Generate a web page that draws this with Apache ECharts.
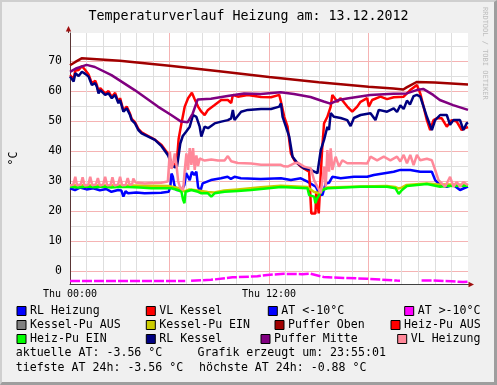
<!DOCTYPE html>
<html><head><meta charset="utf-8">
<script src="https://cdn.jsdelivr.net/npm/echarts@6/dist/echarts.min.js"></script>
<style>
html,body{margin:0;padding:0;background:#fff;}
#frame{position:absolute;left:0;top:0;width:497px;height:385px;box-sizing:border-box;background:#f0f0f0;border-left:2px solid #cfcfcf;border-top:2px solid #cfcfcf;border-right:3px solid #9e9e9e;border-bottom:3px solid #9e9e9e;}
#chart{position:absolute;left:0;top:0;width:497px;height:385px;}
</style></head><body><div id="frame"></div><div id="chart"></div>
<script>
// ---- text ----
const titleText = 'Temperaturverlauf Heizung am: 13.12.2012';
const unitLabel = '°C';
const comments = ['aktuelle AT: -3.56 °C', 'Grafik erzeugt um: 23:55:01', 'tiefste AT 24h: -3.56 °C', 'höchste AT 24h: -0.88 °C'];
const watermark = 'RRDTOOL / TOBI OETIKER';

// ---- axes ----
const xMin = 0, xMax = 24;               // hours of Thu 13.12.2012
const xLabelHours = [0, 12];
const xLabelTexts = ['Thu 00:00', 'Thu 12:00'];
const yMin = -4.333, yMax = 79.333;
const yMajorTicks = [0, 10, 20, 30, 40, 50, 60, 70];
const yMinorTicks = [5, 15, 25, 35, 45, 55, 65, 75];

// ---- series: [hour, °C] ----
const rlHeizung = [[0,27.6],[0.3,27.0],[0.6,27.8],[1.0,27.2],[1.4,27.6],[1.8,26.9],[2.2,27.3],[2.5,26.4],[2.9,27.0],[3.1,26.8],[3.22,24.8],[3.35,26.6],[3.5,25.9],[4.0,26.2],[4.5,25.9],[5.0,26.0],[5.5,26.1],[5.95,26.4],[6.05,28.1],[6.12,32.5],[6.2,31.5],[6.3,28.5],[6.42,27.0],[6.72,26.8],[6.9,28.7],[7.0,32.6],[7.12,32.4],[7.22,30.3],[7.35,33.1],[7.5,32.0],[7.62,33.1],[7.72,28.1],[7.85,26.5],[8.0,29.2],[8.5,30.3],[9.1,30.9],[9.5,31.4],[9.7,30.7],[9.92,31.4],[10.3,30.9],[11.5,30.7],[12.72,30.9],[13.32,30.3],[13.92,30.9],[14.32,29.8],[14.82,28.1],[15.02,25.9],[15.22,25.3],[15.42,29.2],[15.62,29.4],[15.82,31.4],[16.32,30.9],[17.12,31.4],[17.92,31.4],[18.32,32.0],[19.52,33.1],[19.92,33.7],[20.52,33.7],[21.12,33.1],[21.82,33.1],[22.02,30.3],[22.32,28.7],[22.72,28.1],[23.12,28.7],[23.52,27.0],[23.72,27.5],[24,28.1]];
const vlKessel = [[0,65.3],[0.12,65.4],[0.22,64.0],[0.32,66.8],[0.52,67.0],[0.72,68.3],[0.92,67.0],[1.12,65.5],[1.32,62.5],[1.52,63.4],[1.62,62.0],[1.72,59.7],[1.82,61.0],[1.92,61.0],[2.12,59.2],[2.32,60.0],[2.52,58.0],[2.72,59.4],[2.92,56.3],[3.02,57.6],[3.22,53.5],[3.42,54.8],[3.62,52.4],[3.72,50.7],[3.92,49.6],[4.12,47.4],[4.32,46.2],[4.72,45.0],[5.12,43.8],[5.52,42.0],[5.92,39.0],[6.12,36.0],[6.32,35.2],[6.45,37.0],[6.55,44.0],[6.72,49.2],[6.92,54.8],[7.12,57.6],[7.35,59.4],[7.5,57.5],[7.72,54.8],[7.92,53.1],[8.12,52.0],[8.32,53.7],[8.72,55.3],[9.12,57.0],[9.52,57.0],[9.72,56.0],[9.82,58.7],[10.12,58.1],[10.72,58.7],[11.52,58.0],[12.12,57.9],[12.62,58.7],[12.72,56.4],[12.92,51.4],[13.12,48.1],[13.32,39.2],[13.52,37.0],[13.92,34.8],[14.42,33.1],[14.5,32.6],[14.55,19.2],[14.8,19.2],[14.85,26.5],[14.95,26.5],[15.0,19.2],[15.12,19.2],[15.2,40.3],[15.32,49.2],[15.52,51.4],[15.72,54.8],[15.82,58.7],[15.92,59.2],[16.12,56.4],[16.32,57.6],[16.72,54.8],[17.02,53.1],[17.32,54.8],[17.52,56.4],[17.92,57.6],[18.02,54.8],[18.22,57.0],[18.72,58.1],[19.12,57.3],[19.52,57.9],[20.12,58.1],[20.52,60.3],[20.92,62.0],[21.12,59.2],[21.32,54.8],[21.52,50.3],[21.72,47.0],[21.92,50.3],[22.12,50.9],[22.42,50.9],[22.72,48.1],[23.02,50.3],[23.32,49.8],[23.62,47.0],[23.82,47.6],[24,48.0]];
const atBelow10 = [];
const atAbove10 = [[0,-3.33],[3,-3.3],[6.95,-3.33],[7.1,null],[7.3,-3.25],[8.5,-2.95],[9.8,-2.1],[11.3,-1.77],[11.9,-1.3],[12.9,-0.95],[14.0,-1.05],[14.5,-0.9],[15.3,-2.0],[16.5,-2.3],[17.9,-2.56],[19.7,-3.2],[19.9,-3.25],[20.5,null],[21.2,-3.2],[21.9,-3.2],[23.0,-3.4],[23.7,-3.67],[24,-3.56]];
const kesselPuAus = [];
const kesselPuEin = [[0,28.6],[3.5,28.5],[6.0,28.3],[6.6,27.6],[6.9,26.5],[7.2,27.2],[7.6,26.9],[8.3,26.3],[8.7,26.2],[9.3,26.8],[10.1,27.2],[11.5,27.9],[12.7,28.4],[14.3,28.0],[14.7,26.4],[15.0,25.9],[15.2,27.0],[15.5,27.8],[17.5,28.2],[19.1,28.3],[19.6,28.0],[19.8,27.5],[20.0,27.8],[20.3,28.7],[21.5,29.2],[22.1,28.9],[23.0,28.8],[24,28.7]];
const pufferOben = [[0,68.6],[0.3,69.6],[0.7,70.9],[3,70.1],[6,68.4],[9,66.6],[12,64.7],[15,62.9],[18,61.4],[19.5,60.8],[20.1,60.5],[20.3,61.2],[20.5,61.8],[20.9,63.0],[22,62.8],[24,62.2]];
const heizPuAus = [];
const heizPuEin = [[0,28.1],[0.5,27.8],[1.0,28.2],[1.5,27.9],[2.0,28.2],[2.5,27.8],[3.0,28.1],[3.5,28.0],[4.2,27.8],[4.9,27.6],[6.1,27.6],[6.5,27.0],[6.72,26.4],[6.82,23.7],[6.9,22.6],[6.97,26.4],[7.32,27.0],[7.72,26.4],[7.92,25.9],[8.32,25.9],[8.52,24.8],[8.72,25.9],[9.32,26.4],[10.12,26.7],[10.92,27.0],[12.72,28.0],[14.32,27.6],[14.42,25.3],[14.72,24.8],[14.8,22.6],[14.88,24.0],[15.02,25.3],[15.22,27.0],[15.52,27.6],[17.52,28.1],[19.12,28.1],[19.62,27.6],[19.82,25.7],[20.02,27.0],[20.32,28.3],[21.52,29.0],[22.32,28.1],[22.72,28.3],[24,28.4]];
const rlKessel = [[0,64.8],[0.12,64.6],[0.22,63.2],[0.32,65.9],[0.52,65.0],[0.72,66.4],[0.92,65.7],[1.12,64.8],[1.32,62.0],[1.52,62.6],[1.62,61.4],[1.72,59.2],[1.82,60.3],[1.92,60.3],[2.12,58.7],[2.32,59.2],[2.52,57.6],[2.72,58.7],[2.92,55.9],[3.02,57.0],[3.22,53.1],[3.42,54.2],[3.62,52.0],[3.72,50.3],[3.92,49.2],[4.12,47.0],[4.32,45.9],[4.72,44.8],[5.12,43.7],[5.52,41.6],[5.92,38.5],[6.12,35.6],[6.32,34.6],[6.45,34.8],[6.55,38.5],[6.65,42.5],[6.8,45.0],[7.0,46.4],[7.22,48.1],[7.42,52.0],[7.62,51.4],[7.82,48.1],[7.92,44.8],[8.12,48.1],[8.32,47.6],[8.72,49.2],[9.12,49.8],[9.52,50.3],[9.72,50.9],[9.82,53.7],[9.92,50.3],[10.32,53.1],[10.72,53.7],[11.52,54.0],[12.12,54.0],[12.62,54.8],[12.72,55.9],[12.82,51.4],[13.02,48.1],[13.22,44.8],[13.42,38.1],[13.72,35.9],[14.12,34.2],[14.52,33.7],[14.92,32.6],[15.12,40.3],[15.32,43.7],[15.52,48.1],[15.62,47.0],[15.72,52.6],[15.92,51.4],[16.32,51.0],[16.72,50.3],[16.92,48.3],[17.12,51.0],[17.52,52.0],[18.12,52.6],[18.42,50.3],[18.62,53.7],[19.12,53.1],[19.52,54.2],[19.72,53.0],[19.92,55.2],[20.12,54.0],[20.32,56.8],[20.5,55.5],[20.72,58.3],[20.92,58.7],[21.12,58.1],[21.32,54.8],[21.52,51.4],[21.82,47.0],[22.02,50.3],[22.32,52.0],[22.72,52.0],[22.92,48.7],[23.12,50.3],[23.52,50.3],[23.72,47.0],[23.92,49.2],[24,49.5]];
const pufferMitte = [[0,66.4],[0.4,67.6],[1.0,68.7],[1.5,68.0],[2.5,65.3],[3.9,60.3],[5.3,54.8],[6.1,52.0],[6.7,49.8],[7.1,49.6],[7.4,52.5],[7.7,57.2],[8.5,57.4],[9.5,58.3],[10.5,59.2],[11.5,59.0],[12.7,59.6],[13.5,59.0],[14.5,58.0],[15.3,56.5],[15.7,55.8],[16.2,57.0],[16.8,57.6],[18.1,58.7],[19.5,59.1],[20.3,59.2],[20.9,60.3],[21.3,60.7],[21.9,58.7],[22.3,57.0],[23.1,55.3],[24,53.7]];
const vlHeizung = [[0,28.5],[0.2,28.8],[0.32,31.4],[0.42,28.6],[0.65,28.8],[0.76,31.2],[0.88,28.5],[1.1,28.7],[1.22,31.4],[1.34,28.6],[1.56,28.8],[1.68,31.0],[1.8,28.5],[2.0,28.8],[2.12,31.4],[2.24,28.6],[2.45,28.7],[2.56,31.2],[2.68,28.5],[2.9,28.8],[3.02,31.4],[3.14,28.6],[3.36,28.7],[3.48,31.0],[3.6,28.7],[3.75,29.0],[3.82,30.8],[3.95,29.5],[4.5,29.2],[5.0,29.3],[5.5,29.4],[5.9,29.8],[6.02,39.8],[6.12,34.0],[6.22,35.9],[6.32,39.2],[6.42,35.4],[6.52,30.0],[6.62,28.1],[6.82,27.0],[6.92,33.7],[7.02,39.2],[7.12,33.7],[7.22,41.0],[7.32,35.4],[7.42,41.0],[7.52,33.7],[7.62,38.5],[7.72,35.0],[7.82,37.5],[8.12,36.8],[8.52,37.2],[8.92,36.8],[9.32,36.8],[9.52,38.3],[9.72,36.6],[10.12,36.0],[10.92,35.8],[11.52,35.4],[12.72,35.4],[12.9,34.9],[13.12,34.8],[13.52,35.9],[13.72,36.1],[14.12,34.8],[14.52,34.2],[14.72,30.3],[14.92,28.1],[15.12,25.9],[15.22,30.3],[15.32,34.8],[15.42,28.1],[15.52,40.3],[15.62,33.1],[15.72,40.9],[15.82,33.7],[16.02,38.1],[16.22,34.8],[16.42,36.9],[16.72,35.9],[17.52,35.9],[17.92,35.8],[18.12,38.1],[18.52,36.9],[18.92,38.1],[19.32,36.9],[19.72,38.1],[19.92,36.5],[20.12,38.7],[20.32,35.9],[20.52,38.7],[20.72,35.3],[20.92,38.7],[21.12,36.9],[21.52,37.4],[21.82,36.9],[22.02,33.7],[22.22,30.3],[22.42,29.2],[22.62,28.1],[22.92,31.4],[23.12,28.1],[23.32,29.7],[23.52,28.1],[23.72,29.7],[24,28.6]];

const seriesNames = ['RL Heizung','VL Kessel','AT <-10°C','AT >-10°C','Kessel-Pu AUS','Kessel-Pu EIN','Puffer Oben','Heiz-Pu AUS','Heiz-Pu EIN','RL Kessel','Puffer Mitte','VL Heizung'];
const seriesData = [rlHeizung, vlKessel, atBelow10, atAbove10, kesselPuAus, kesselPuEin, pufferOben, heizPuAus, heizPuEin, rlKessel, pufferMitte, vlHeizung];
const seriesColors = ['#0000ff','#ff0000','#0000ff','#ff00ff','#808080','#cccc00','#a00000','#ff0000','#00ff00','#000080','#800080','#ff8899'];

const FONT = 'DejaVu Sans Mono';
const chart = echarts.init(document.getElementById('chart'), null, {renderer:'canvas'});

const series = seriesNames.map((n, i) => ({
  type: 'line', name: n, data: seriesData[i], xAxisIndex: 1, yAxisIndex: 1,
  showSymbol: false, symbol: 'none', silent: true, connectNulls: false,
  lineStyle: { color: seriesColors[i], width: 2.5, type: n === 'AT >-10°C' ? [10, 2] : 'solid' },
  itemStyle: { color: seriesColors[i] }
}));

// legend layout: RRDtool justifies every row, so each entry has its own slot
const legendRows = [
  ['RL Heizung','VL Kessel','AT <-10°C','AT >-10°C'],
  ['Kessel-Pu AUS','Kessel-Pu EIN','Puffer Oben','Heiz-Pu AUS'],
  ['Heiz-Pu EIN','RL Kessel','Puffer Mitte','VL Heizung']
];
const legendRowLefts = [
  [16.5, 145.8, 267.8, 404.2],
  [16.5, 145.8, 274.5, 390.5],
  [16.5, 145.8, 260.5, 397.2]
];
const legendRowTops = [304, 318, 332];
const legend = [];
legendRows.forEach((row, r) => row.forEach((name, c) => legend.push({
  data: [name], orient: 'horizontal', left: legendRowLefts[r][c], top: legendRowTops[r], padding: 0, itemGap: 0,
  icon: 'rect', itemWidth: 9, itemHeight: 9, selectedMode: false,
  itemStyle: { borderColor: '#000', borderWidth: 1 },
  textStyle: { fontFamily: FONT, fontSize: 11.6, color: '#000', lineHeight: 14, padding: [0, 0, 0, -1] }
})));

const txt = { fontFamily: FONT, fontSize: 11.6, fontWeight: 'normal', color: '#000', lineHeight: 14 };
const title = [
  { text: titleText, left: 'center', top: 10, padding: 0, textStyle: { fontFamily: FONT, fontSize: 13.3, fontWeight: 'normal', color: '#000' } },
  { text: comments[0], left: 15.7, top: 346, padding: 0, textStyle: txt },
  { text: comments[1], left: 197.5, top: 346, padding: 0, textStyle: txt },
  { text: comments[2], left: 15.7, top: 360.5, padding: 0, textStyle: txt },
  { text: comments[3], left: 199, top: 360.5, padding: 0, textStyle: txt }
];

const minorGrid = '#dedede', majorGrid = '#f5b3b3';
const option = {
  animation: false,
  backgroundColor: 'transparent',
  title, legend,
  grid: { left: 68, right: 29, top: 33, bottom: 101, show: true, backgroundColor: '#ffffff', borderWidth: 0, containLabel: false },
  xAxis: [
    { type: 'value', min: xMin, max: xMax, interval: 1, position: 'bottom',
      axisLine: { show: false }, axisTick: { show: false }, axisLabel: { show: false },
      splitLine: { show: true, showMaxLine: false, lineStyle: { color: minorGrid, width: 1 } } },
    { type: 'value', min: xMin, max: xMax, interval: 6, position: 'bottom',
      axisLine: { show: true, onZero: false, lineStyle: { color: '#404040', width: 1 } },
      axisTick: { show: false },
      axisLabel: { fontFamily: FONT, fontSize: 10, color: '#000', margin: 5,
        formatter: v => { const k = xLabelHours.indexOf(v); return k >= 0 ? xLabelTexts[k] : ''; } },
      splitLine: { show: true, showMaxLine: false, lineStyle: { color: majorGrid, width: 1 } } }
  ],
  yAxis: [
    { type: 'value', min: yMin, max: yMax, position: 'right',
      axisLine: { show: false }, axisTick: { show: false, customValues: yMinorTicks }, axisLabel: { show: false, customValues: yMinorTicks },
      splitLine: { show: true, lineStyle: { color: minorGrid, width: 1 } } },
    { type: 'value', min: yMin, max: yMax, position: 'left',
      axisLine: { show: true, onZero: false, lineStyle: { color: '#5a3535', width: 1 } },
      axisTick: { show: false, customValues: yMajorTicks },
      axisLabel: { customValues: yMajorTicks, fontFamily: FONT, fontSize: 11.5, color: '#000', margin: 8 },
      splitLine: { show: true, lineStyle: { color: majorGrid, width: 1 } },
      name: unitLabel, nameLocation: 'middle', nameGap: 50,
      nameTextStyle: { fontFamily: FONT, fontSize: 11.6, color: '#000' } }
  ],
  graphic: [
    { type: 'line', silent: true, shape: { x1: 68.5, y1: 33, x2: 68.5, y2: 29 }, style: { stroke: '#5a3535', lineWidth: 1 } },
    { type: 'polygon', silent: true, shape: { points: [[65.8, 31.5], [71.2, 31.5], [68.5, 26]] }, style: { fill: '#a01010' } },
    { type: 'line', silent: true, shape: { x1: 468, y1: 284.5, x2: 471, y2: 284.5 }, style: { stroke: '#404040', lineWidth: 1 } },
    { type: 'polygon', silent: true, shape: { points: [[468.5, 281.8], [468.5, 287.2], [474, 284.5]] }, style: { fill: '#a01010' } },
    { type: 'text', silent: true, x: 485, y: 7, rotation: -Math.PI / 2,
      style: { text: watermark, fontFamily: FONT, fontSize: 7, fill: '#bdbdbd', align: 'left', verticalAlign: 'middle', textAlign: 'left', textVerticalAlign: 'middle' } }
  ],
  series
};
chart.setOption(option);
</script></body></html>
